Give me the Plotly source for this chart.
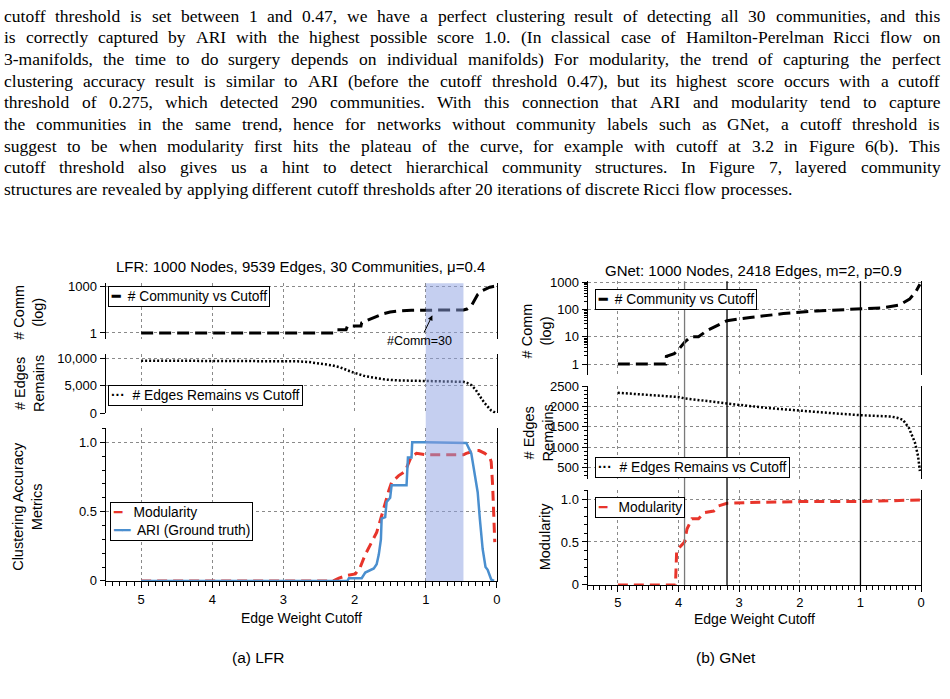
import math
import plotly.graph_objects as go

W, H = 950, 699

# ---------------- data ----------------
paragraph_lines = [
    "cutoff threshold is set between 1 and 0.47, we have a perfect clustering result of detecting all 30 communities, and this",
    "is correctly captured by ARI with the highest possible score 1.0. (In classical case of Hamilton-Perelman Ricci flow on",
    "3-manifolds, the time to do surgery depends on individual manifolds) For modularity, the trend of capturing the perfect",
    "clustering accuracy result is similar to ARI (before the cutoff threshold 0.47), but its highest score occurs with a cutoff",
    "threshold of 0.275, which detected 290 communities. With this connection that ARI and modularity tend to capture",
    "the communities in the same trend, hence for networks without community labels such as GNet, a cutoff threshold is",
    "suggest to be when modularity first hits the plateau of the curve, for example with cutoff at 3.2 in Figure 6(b). This",
    "cutoff threshold also gives us a hint to detect hierarchical community structures.  In Figure 7, layered community",
    "structures are revealed by applying different cutoff thresholds after 20 iterations of discrete Ricci flow processes.",
]

lfr_title = "LFR: 1000 Nodes, 9539 Edges, 30 Communities, \u03bc=0.4"
gnet_title = "GNet: 1000 Nodes, 2418 Edges, m=2, p=0.9"

# LFR: number of communities vs cutoff
lfr_comm_x = [5.0, 4.0, 3.0, 2.3, 2.27, 2.12, 2.1, 1.91, 1.9, 1.8, 1.7, 1.6, 1.5, 1.4, 1.2, 1.0,
              0.8, 0.6, 0.47, 0.42, 0.36, 0.3, 0.27, 0.2, 0.15, 0.1, 0.05, 0.02]
lfr_comm_y = [1, 1, 1, 1, 1.6, 1.6, 2.8, 2.8, 4.5, 7, 11, 17, 22, 25, 28, 29.5,
              30, 30, 30, 34, 54, 150, 290, 520, 700, 850, 950, 1000]

# LFR: edges remaining vs cutoff
lfr_edge_x = [5.0, 4.0, 3.0, 2.8, 2.64, 2.5, 2.32, 2.2, 2.04, 1.85, 1.7, 1.57, 1.4, 1.15, 0.8,
              0.47, 0.42, 0.36, 0.3, 0.27, 0.22, 0.17, 0.12, 0.08, 0.05, 0.02]
lfr_edge_y = [9539, 9539, 9500, 9420, 9280, 9080, 8690, 8300, 7480, 6710, 6350, 6110, 5950, 5860, 5760,
              5690, 5500, 5090, 4300, 3600, 2700, 1800, 1000, 470, 250, 100]

# LFR: modularity vs cutoff
lfr_mod_x = [5.0, 4.0, 3.0, 2.3, 2.22, 2.1, 1.99, 1.92, 1.85, 1.77, 1.69, 1.62, 1.57, 1.52, 1.48,
             1.38, 1.29, 1.24, 1.2, 1.13, 1.0, 0.8, 0.6, 0.47, 0.43, 0.35, 0.3, 0.25, 0.2, 0.17,
             0.1, 0.08, 0.06, 0.05, 0.04, 0.03]
lfr_mod_y = [0, 0, 0, 0, 0.02, 0.04, 0.05, 0.1, 0.19, 0.27, 0.35, 0.47, 0.57, 0.65, 0.71,
             0.76, 0.79, 0.85, 0.9, 0.92, 0.91, 0.91, 0.91, 0.91, 0.92, 0.93, 0.94, 0.94, 0.93, 0.92,
             0.89, 0.86, 0.69, 0.5, 0.35, 0.28]

# LFR: ARI vs cutoff
lfr_ari_x = [5.0, 4.0, 3.0, 2.1, 2.08, 1.9, 1.85, 1.78, 1.73, 1.69, 1.66, 1.63, 1.62, 1.57, 1.55,
             1.5, 1.48, 1.27, 1.25, 1.2, 1.19, 1.0, 0.8, 0.6, 0.43, 0.36, 0.31, 0.27, 0.24, 0.2,
             0.16, 0.13, 0.08, 0.04]
lfr_ari_y = [0, 0, 0, 0, 0.02, 0.02, 0.06, 0.08, 0.09, 0.12, 0.19, 0.3, 0.45, 0.46, 0.57,
             0.6, 0.69, 0.69, 0.89, 0.89, 1.0, 1.0, 1.0, 1.0, 0.995, 0.92, 0.76, 0.64, 0.45, 0.23,
             0.10, 0.08, 0.01, 0.0]

lfr_band = [1.0, 0.47]

# GNet: number of communities vs cutoff
gnet_comm_x = [5.0, 4.6, 4.21, 4.2, 4.07, 3.99, 3.9, 3.8, 3.67, 3.53, 3.37, 3.2, 2.82, 2.27,
               1.72, 1.0, 0.63, 0.36, 0.19, 0.08, 0.02]
gnet_comm_y = [1, 1, 1, 1.9, 2.4, 3.6, 6.3, 10, 10, 17, 26, 39, 51, 71,
               89, 103, 115, 145, 240, 480, 840]

# GNet: edges remaining vs cutoff
gnet_edge_x = [5.0, 4.5, 4.0, 3.9, 3.2, 3.0, 2.5, 2.0, 1.5, 1.0, 0.5, 0.4, 0.3, 0.2, 0.1, 0.05, 0.02]
gnet_edge_y = [2337, 2290, 2232, 2200, 2070, 2040, 1960, 1893, 1840, 1787, 1754, 1725, 1674, 1472,
               1107, 782, 418]

# GNet: modularity vs cutoff
gnet_mod_x = [5.0, 4.5, 4.05, 4.03, 3.97, 3.9, 3.86, 3.78, 3.67, 3.58, 3.42, 3.34, 3.2, 2.82,
              2.0, 1.0, 0.5, 0.2, 0.02]
gnet_mod_y = [0.0, 0.0, 0.0, 0.4, 0.45, 0.5, 0.65, 0.77, 0.77, 0.84, 0.86, 0.92, 0.95, 0.96,
              0.97, 0.97, 0.98, 0.99, 0.99]

gnet_marks = [3.9, 3.2, 1.0]
gnet_mark_colors = ["#7a7a7a", "black", "black"]

# ---------------- helpers ----------------
SANS = "Liberation Sans, Arial, Helvetica, sans-serif"
SERIF = "Liberation Serif, Times New Roman, serif"
RED = "#e8352b"
BLUE = "#4a8fcf"
GRID = "#8a8a8a"


def fx(p):
    return p / W


def S(p):
    # chart block vertical placement (pixels from top)
    return 266 + (p - 266) * 1.012


def fy(p):
    return 1 - p / H


def fys(p):
    return fy(S(p))


# Times / Liberation Serif advance widths (1/1000 em)
_lw = [444, 500, 444, 500, 444, 333, 500, 500, 278, 278, 500, 278, 778, 500, 500, 500, 500, 333,
       389, 278, 500, 500, 722, 500, 500, 444]
_uw = [722, 667, 667, 722, 611, 556, 722, 722, 333, 389, 722, 611, 889, 722, 722, 556, 722, 667,
       556, 611, 722, 722, 944, 722, 722, 611]
TW = {chr(97 + i): w for i, w in enumerate(_lw)}
TW.update({chr(65 + i): w for i, w in enumerate(_uw)})
TW.update({str(d): 500 for d in range(10)})
TW.update({'.': 250, ',': 250, '(': 333, ')': 333, '-': 333, ':': 278, ' ': 250})


def word_w(w, fs):
    return sum(TW.get(c, 500) for c in w) * fs / 1000.0


fig = go.Figure()

# ---------------- traces ----------------
fig.add_trace(go.Scatter(x=lfr_comm_x, y=lfr_comm_y, mode="lines", xaxis="x", yaxis="y",
                         line=dict(color="black", width=3, dash="12px,6px"), showlegend=False))
fig.add_trace(go.Scatter(x=lfr_edge_x, y=lfr_edge_y, mode="lines", xaxis="x2", yaxis="y2",
                         line=dict(color="black", width=2.5, dash="2px,2px"), showlegend=False))
fig.add_trace(go.Scatter(x=lfr_mod_x, y=lfr_mod_y, mode="lines", xaxis="x3", yaxis="y3",
                         line=dict(color=RED, width=3, dash="10px,6px"), showlegend=False))
fig.add_trace(go.Scatter(x=lfr_ari_x, y=lfr_ari_y, mode="lines", xaxis="x3", yaxis="y3",
                         line=dict(color=BLUE, width=2.5), showlegend=False))
fig.add_trace(go.Scatter(x=gnet_comm_x, y=gnet_comm_y, mode="lines", xaxis="x4", yaxis="y4",
                         line=dict(color="black", width=3, dash="12px,6px"), showlegend=False))
fig.add_trace(go.Scatter(x=gnet_edge_x, y=gnet_edge_y, mode="lines", xaxis="x5", yaxis="y5",
                         line=dict(color="black", width=2.5, dash="2px,2px"), showlegend=False))
fig.add_trace(go.Scatter(x=gnet_mod_x, y=gnet_mod_y, mode="lines", xaxis="x6", yaxis="y6",
                         line=dict(color=RED, width=3, dash="10px,6px"), showlegend=False))

# ---------------- axes ----------------
TICKFONT = dict(family=SANS, size=13, color="black")


def xax(dom, anchor, bottom):
    d = dict(domain=dom, anchor=anchor, range=[5.5, 0], tick0=0, dtick=1,
             showgrid=True, griddash="dot", gridcolor=GRID, gridwidth=1, zeroline=False,
             tickfont=TICKFONT)
    if bottom:
        d.update(showline=True, linecolor="black", linewidth=1, ticks="outside", ticklen=6,
                 tickcolor="black", tickwidth=1,
                 minor=dict(ticks="outside", ticklen=4, tick0=0, dtick=0.1,
                            tickcolor="black", tickwidth=1, showgrid=False))
    else:
        d.update(showline=False, ticks="", showticklabels=False)
    return d


def yax(dom, anchor, rng, **kw):
    d = dict(domain=dom, anchor=anchor, range=rng, showline=True, mirror=True,
             linecolor="black", linewidth=1, ticks="outside", ticklen=5, tickcolor="black",
             tickwidth=1, showgrid=True, griddash="dot", gridcolor=GRID, gridwidth=1,
             zeroline=False, tickfont=TICKFONT)
    d.update(kw)
    return d


LX = [fx(106), fx(499)]
RX = [fx(590), fx(925)]

minor_log = [m * 10 ** k for k in range(3) for m in range(2, 10)]

fig.update_layout(
    xaxis=xax(LX, "y", False),
    xaxis2=xax(LX, "y2", False),
    xaxis3=xax(LX, "y3", True),
    xaxis4=xax(RX, "y4", False),
    xaxis5=xax(RX, "y5", False),
    xaxis6=xax(RX, "y6", True),
    yaxis=yax([fys(338), fys(282)], "x", [-0.36, 3.19], type="log",
              tickvals=[1, 1000], ticktext=["1", "1000"]),
    yaxis2=yax([fys(413.3), fys(354)], "x2", [0, 10665],
               tickvals=[0, 5000, 10000], ticktext=["0", "5,000", "10,000"]),
    yaxis3=yax([fys(582.7), fys(428.3)], "x3", [0, 1.103],
               tickvals=[0, 0.5, 1.0], ticktext=["0", "0.5", "1.0"],
               minor=dict(ticks="outside", ticklen=3, tick0=0, dtick=0.1, tickcolor="black",
                          showgrid=False)),
    yaxis4=yax([fys(375), fys(280)], "x4", [-0.41, 3.04], type="log",
               tickvals=[1, 10, 100, 1000], ticktext=["1", "10", "100", "1000"],
               minor=dict(ticks="outside", ticklen=3, tickvals=minor_log, tickcolor="black",
                          showgrid=False)),
    yaxis5=yax([fys(480), fys(386)], "x5", [216, 2500], tick0=0, dtick=500,
               minor=dict(ticks="outside", ticklen=3, tick0=0, dtick=100, tickcolor="black",
                          showgrid=False)),
    yaxis6=yax([fys(586.7), fys(491)], "x6", [0, 1.104],
               tickvals=[0, 0.5, 1.0], ticktext=["0", "0.5", "1.0"],
               minor=dict(ticks="outside", ticklen=3, tick0=0, dtick=0.1, tickcolor="black",
                          showgrid=False)),
)

# ---------------- shapes ----------------
shapes = [dict(type="rect", xref="x3", yref="paper", x0=lfr_band[0], x1=lfr_band[1],
               y0=fys(582.7), y1=fys(282), fillcolor="rgba(140,160,225,0.5)", line=dict(width=0),
               layer="above")]
for m, c in zip(gnet_marks, gnet_mark_colors):
    shapes.append(dict(type="line", xref="x6", yref="paper", x0=m, x1=m, y0=fys(586.7), y1=fys(280),
                       line=dict(color=c, width=1.3), layer="above"))

# ---------------- annotations ----------------
ann = []


def text(x, y, s, size=13, xanchor="center", yanchor="middle", angle=0, family=SANS, **kw):
    d = dict(xref="paper", yref="paper", x=fx(x), y=fy(y), text=s, showarrow=False,
             xanchor=xanchor, yanchor=yanchor, textangle=angle,
             font=dict(family=family, size=size, color="black"))
    d.update(kw)
    ann.append(d)


# paragraph: justified text, word by word
PFS = 17.5
LEFT, RIGHT = 4, 944
for i, line in enumerate(paragraph_lines):
    words = line.split()
    yc = 9 + 22.1 * i
    widths = [word_w(w, PFS) for w in words]
    if i < len(paragraph_lines) - 1:
        gap = (RIGHT - LEFT - sum(widths)) / (len(words) - 1)
    else:
        gap = 0.25 * PFS
    xpos = LEFT
    for w, ww in zip(words, widths):
        text(xpos - 1, yc, w, size=PFS, xanchor="left", family=SERIF, borderpad=0)
        xpos += ww + gap

# titles
text(301.7, 265, lfr_title, size=15)
text(757, 269, gnet_title, size=15)

# y-axis titles
text(29, S(311), "# Comm<br>(log)", size=14.5, angle=-90)
text(29, S(383), "# Edges<br>Remains", size=14.5, angle=-90)
text(28, S(507), "Clustering Accuracy<br>Metrics", size=14.5, angle=-90)
text(539, S(330), "# Comm<br>(log)", size=14.5, angle=-90)
text(541, S(433), "# Edges<br>Remains", size=14.5, angle=-90)
text(547, S(538), "Modularity", size=14.5, angle=-90)

# x-axis titles
text(302.5, 624, "Edge Weight Cutoff", size=14)
text(757.5, 625, "Edge Weight Cutoff", size=14)

# captions
text(260, 665, "(a) LFR", size=15.5)
text(729, 665, "(b) GNet", size=15.5)

# legend boxes
LFS = 13.8
BOX = dict(bordercolor="black", borderwidth=1, borderpad=2, bgcolor="white", align="left")
text(108, S(285), "<b>\u2501</b>  # Community vs Cutoff", size=LFS, xanchor="left", yanchor="top", **BOX)
text(108, S(385), "<b>\u00b7\u00b7\u00b7</b>  # Edges Remains vs Cutoff", size=LFS, xanchor="left",
     yanchor="top", **BOX)
text(110, S(503), "<span style='color:%s'>\u2501</span>   Modularity<br>"
                  "<span style='color:%s'>\u2501\u2501</span>  ARI (Ground truth)" % (RED, BLUE),
     size=LFS, xanchor="left", yanchor="top", **BOX)
text(598, S(288), "<b>\u2501</b>  # Community vs Cutoff", size=LFS, xanchor="left", yanchor="top", **BOX)
text(598, S(458), "<b>\u00b7\u00b7\u00b7</b>  # Edges Remains vs Cutoff", size=LFS, xanchor="left",
     yanchor="top", **BOX)
text(598, S(498), "<span style='color:%s'>\u2501</span>   Modularity" % RED, size=LFS,
     xanchor="left", yanchor="top", **BOX)

# "#Comm=30" arrow annotation pointing at the plateau
ann.append(dict(xref="x", yref="y", x=0.87, y=math.log10(30), text="#Comm=30",
                showarrow=True, arrowhead=2, arrowsize=1, arrowwidth=1, arrowcolor="black",
                ax=-15, ay=31, standoff=6, font=dict(family=SANS, size=12.5, color="black")))

fig.update_layout(
    width=W, height=H, autosize=False,
    margin=dict(l=0, r=0, t=0, b=0),
    paper_bgcolor="white", plot_bgcolor="rgba(0,0,0,0)",
    showlegend=False, shapes=shapes, annotations=ann,
    font=dict(family=SANS, color="black"),
)

fig.write_html("out.html")
